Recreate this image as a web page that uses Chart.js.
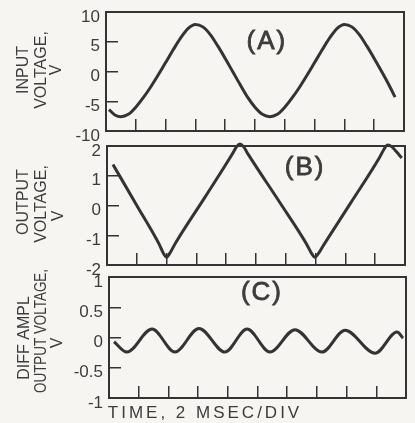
<!DOCTYPE html>
<html>
<head>
<meta charset="utf-8">
<script src="https://cdn.jsdelivr.net/npm/chart.js@4.4.0/dist/chart.umd.min.js"></script>
<style>
  html, body { margin: 0; padding: 0; background: #f6f5f1; }
  #wrap { position: relative; width: 415px; height: 423px; }
  #wrap canvas { position: absolute; left: 0; top: 0; }
</style>
</head>
<body>
<div id="wrap">
  <canvas id="panelA" width="415" height="423"></canvas>
  <canvas id="panelB" width="415" height="423"></canvas>
  <canvas id="panelC" width="415" height="423"></canvas>
</div>
<script>
// time is in divisions (2 ms / div), 10 divisions across each panel
const timeDivs = [0, 1, 2, 3, 4, 5, 6, 7, 8, 9, 10];

// (A) input voltage, V
const timeA = [0.1, 0.3, 0.5, 0.75, 1, 1.25, 1.5, 1.75, 2, 2.25, 2.5, 2.75, 3, 3.25, 3.5, 3.75, 4, 4.25, 4.5, 4.75,
               5, 5.25, 5.5, 5.75, 6, 6.25, 6.5, 6.75, 7, 7.25, 7.5, 7.75, 8, 8.25, 8.5, 8.75, 9, 9.25, 9.5, 9.7];
const inputVolts = [-6.4, -7.3, -7.6, -7.2, -6.0, -4.4, -2.6, -0.6, 1.5, 3.6, 5.6, 7.2, 7.9, 7.5, 6.2, 4.3, 2.2, 0.0, -2.2, -4.3,
                    -6.0, -7.2, -7.6, -7.2, -6.0, -4.4, -2.6, -0.6, 1.5, 3.6, 5.6, 7.2, 7.9, 7.5, 6.2, 4.3, 2.2, 0.0, -2.3, -4.3];
const ticksA = [-10, -5, 0, 5, 10];

// (B) output voltage, V
const timeB = [0.2, 1.0, 1.75, 1.9, 2.0, 2.1, 2.3, 3.3, 4.2, 4.35, 4.46, 4.58, 4.75, 5.8, 6.7, 6.87, 6.98, 7.09, 7.25,
               8.2, 9.15, 9.3, 9.42, 9.55, 9.7, 9.89];
const outputVolts = [1.38, 0.0, -1.3, -1.62, -1.74, -1.62, -1.26, 0.3, 1.72, 1.98, 2.07, 1.98, 1.7, 0.1, -1.3, -1.62, -1.74, -1.62, -1.36,
                     0.12, 1.62, 1.9, 2.03, 1.98, 1.82, 1.6];
const ticksB = [-2, -1, 0, 1, 2];

// (C) diff ampl output voltage, V
const timeC = [0.17, 0.6, 1.45, 2.22, 3.03, 3.9, 4.65, 5.42, 6.26, 7.17, 7.95, 8.96, 9.7, 9.9];
const diffVolts = [-0.07, -0.24, 0.14, -0.24, 0.15, -0.24, 0.14, -0.24, 0.13, -0.24, 0.12, -0.26, 0.09, -0.01];
const ticksC = [-1, -0.5, 0, 0.5, 1];

const FONT = "'Liberation Sans', Arial, sans-serif";
const INK = '#333333';
const TEXT = '#3c3c3c';

// box around the plot area
const framePlugin = {
    id: 'frame',
    beforeDatasetsDraw(chart) {
        const { ctx, chartArea: a } = chart;
        ctx.save();
        ctx.strokeStyle = INK;
        ctx.lineWidth = 2;
        ctx.strokeRect(a.left, a.top, a.right - a.left, a.bottom - a.top);
        ctx.restore();
    }
};

// panel letter, stacked vertical axis titles, time caption
const decorPlugin = {
    id: 'decor',
    afterDraw(chart, args, opts) {
        const { ctx } = chart;
        const xs = chart.scales.x, ys = chart.scales.y;
        ctx.save();
        ctx.fillStyle = TEXT;
        ctx.textAlign = 'center';
        ctx.textBaseline = 'middle';

        if (opts.tag) {
            const px = xs.getPixelForValue(opts.tag.at[0]);
            const py = ys.getPixelForValue(opts.tag.at[1]);
            ctx.font = `26px ${FONT}`;
            ctx.letterSpacing = '2px';
            ctx.strokeStyle = TEXT;
            ctx.lineWidth = 0.8;
            ctx.fillText(opts.tag.text, px, py);
            ctx.strokeText(opts.tag.text, px, py);
        }

        ctx.font = `16px ${FONT}`;
        ctx.letterSpacing = '0px';
        (opts.side || []).forEach(line => {
            ctx.save();
            ctx.translate(line.x, line.y);
            ctx.rotate(-Math.PI / 2);
            if (line.maxWidth) ctx.fillText(line.text, 0, 0, line.maxWidth);
            else ctx.fillText(line.text, 0, 0);
            ctx.restore();
        });

        if (opts.caption) {
            ctx.font = `17px ${FONT}`;
            ctx.letterSpacing = '3px';
            ctx.fillText(opts.caption.text, opts.caption.x, opts.caption.y);
        }
        ctx.restore();
    }
};

function makePanel(id, times, volts, yTicks, area, decor) {
    const points = times.map((t, i) => ({ x: t, y: volts[i] }));
    return new Chart(document.getElementById(id), {
        type: 'line',
        data: {
            datasets: [{
                data: points,
                borderColor: INK,
                borderWidth: 3,
                pointRadius: 0,
                fill: false,
                clip: false,
                cubicInterpolationMode: 'monotone'
            }]
        },
        options: {
            responsive: false,
            animation: false,
            layout: {
                padding: { left: 0, top: area.top, right: 415 - area.right, bottom: 423 - area.bottom }
            },
            plugins: {
                legend: { display: false },
                tooltip: { enabled: false },
                decor: decor
            },
            scales: {
                x: {
                    type: 'linear',
                    min: timeDivs[0],
                    max: timeDivs[timeDivs.length - 1],
                    afterBuildTicks: s => { s.ticks = timeDivs.map(v => ({ value: v })); },
                    afterFit: s => { s.height = 0; s.paddingLeft = 0; s.paddingRight = 0; },
                    ticks: { display: false },
                    border: { display: false },
                    grid: { drawOnChartArea: false, drawTicks: true, tickLength: -12, color: INK, lineWidth: 1.5 }
                },
                y: {
                    type: 'linear',
                    min: yTicks[0],
                    max: yTicks[yTicks.length - 1],
                    afterBuildTicks: s => { s.ticks = yTicks.map(v => ({ value: v })); },
                    afterFit: s => { s.width = area.left; s.paddingTop = 0; s.paddingBottom = 0; },
                    ticks: {
                        color: TEXT,
                        font: { family: FONT, size: 17 },
                        padding: 18,
                        labelOffset: 5,
                        callback: v => String(v)
                    },
                    border: { display: false },
                    grid: { drawOnChartArea: false, drawTicks: true, tickLength: -12, color: INK, lineWidth: 1.5 }
                }
            }
        },
        plugins: [framePlugin, decorPlugin]
    });
}

makePanel('panelA', timeA, inputVolts, ticksA,
    { left: 106, right: 404, top: 12, bottom: 131 },
    {
        tag: { text: '(A)', at: [5.4, 5] },
        side: [
            { text: 'INPUT', x: 24, y: 70 },
            { text: 'VOLTAGE,', x: 42, y: 70 },
            { text: 'V', x: 57, y: 70 }
        ]
    });

makePanel('panelB', timeB, outputVolts, ticksB,
    { left: 107, right: 405, top: 146, bottom: 265 },
    {
        tag: { text: '(B)', at: [6.65, 1.27] },
        side: [
            { text: 'OUTPUT', x: 24, y: 202 },
            { text: 'VOLTAGE,', x: 42, y: 204 },
            { text: 'V', x: 59, y: 216 }
        ]
    });

makePanel('panelC', timeC, diffVolts, ticksC,
    { left: 109, right: 406, top: 277, bottom: 398 },
    {
        tag: { text: '(C)', at: [5.15, 0.74] },
        side: [
            { text: 'DIFF AMPL', x: 25, y: 338 },
            { text: 'OUTPUT VOLTAGE,', x: 42, y: 331, maxWidth: 124 },
            { text: 'V', x: 58, y: 343 }
        ],
        caption: { text: 'TIME, 2 MSEC/DIV', x: 205, y: 413 }
    });
</script>
</body>
</html>
